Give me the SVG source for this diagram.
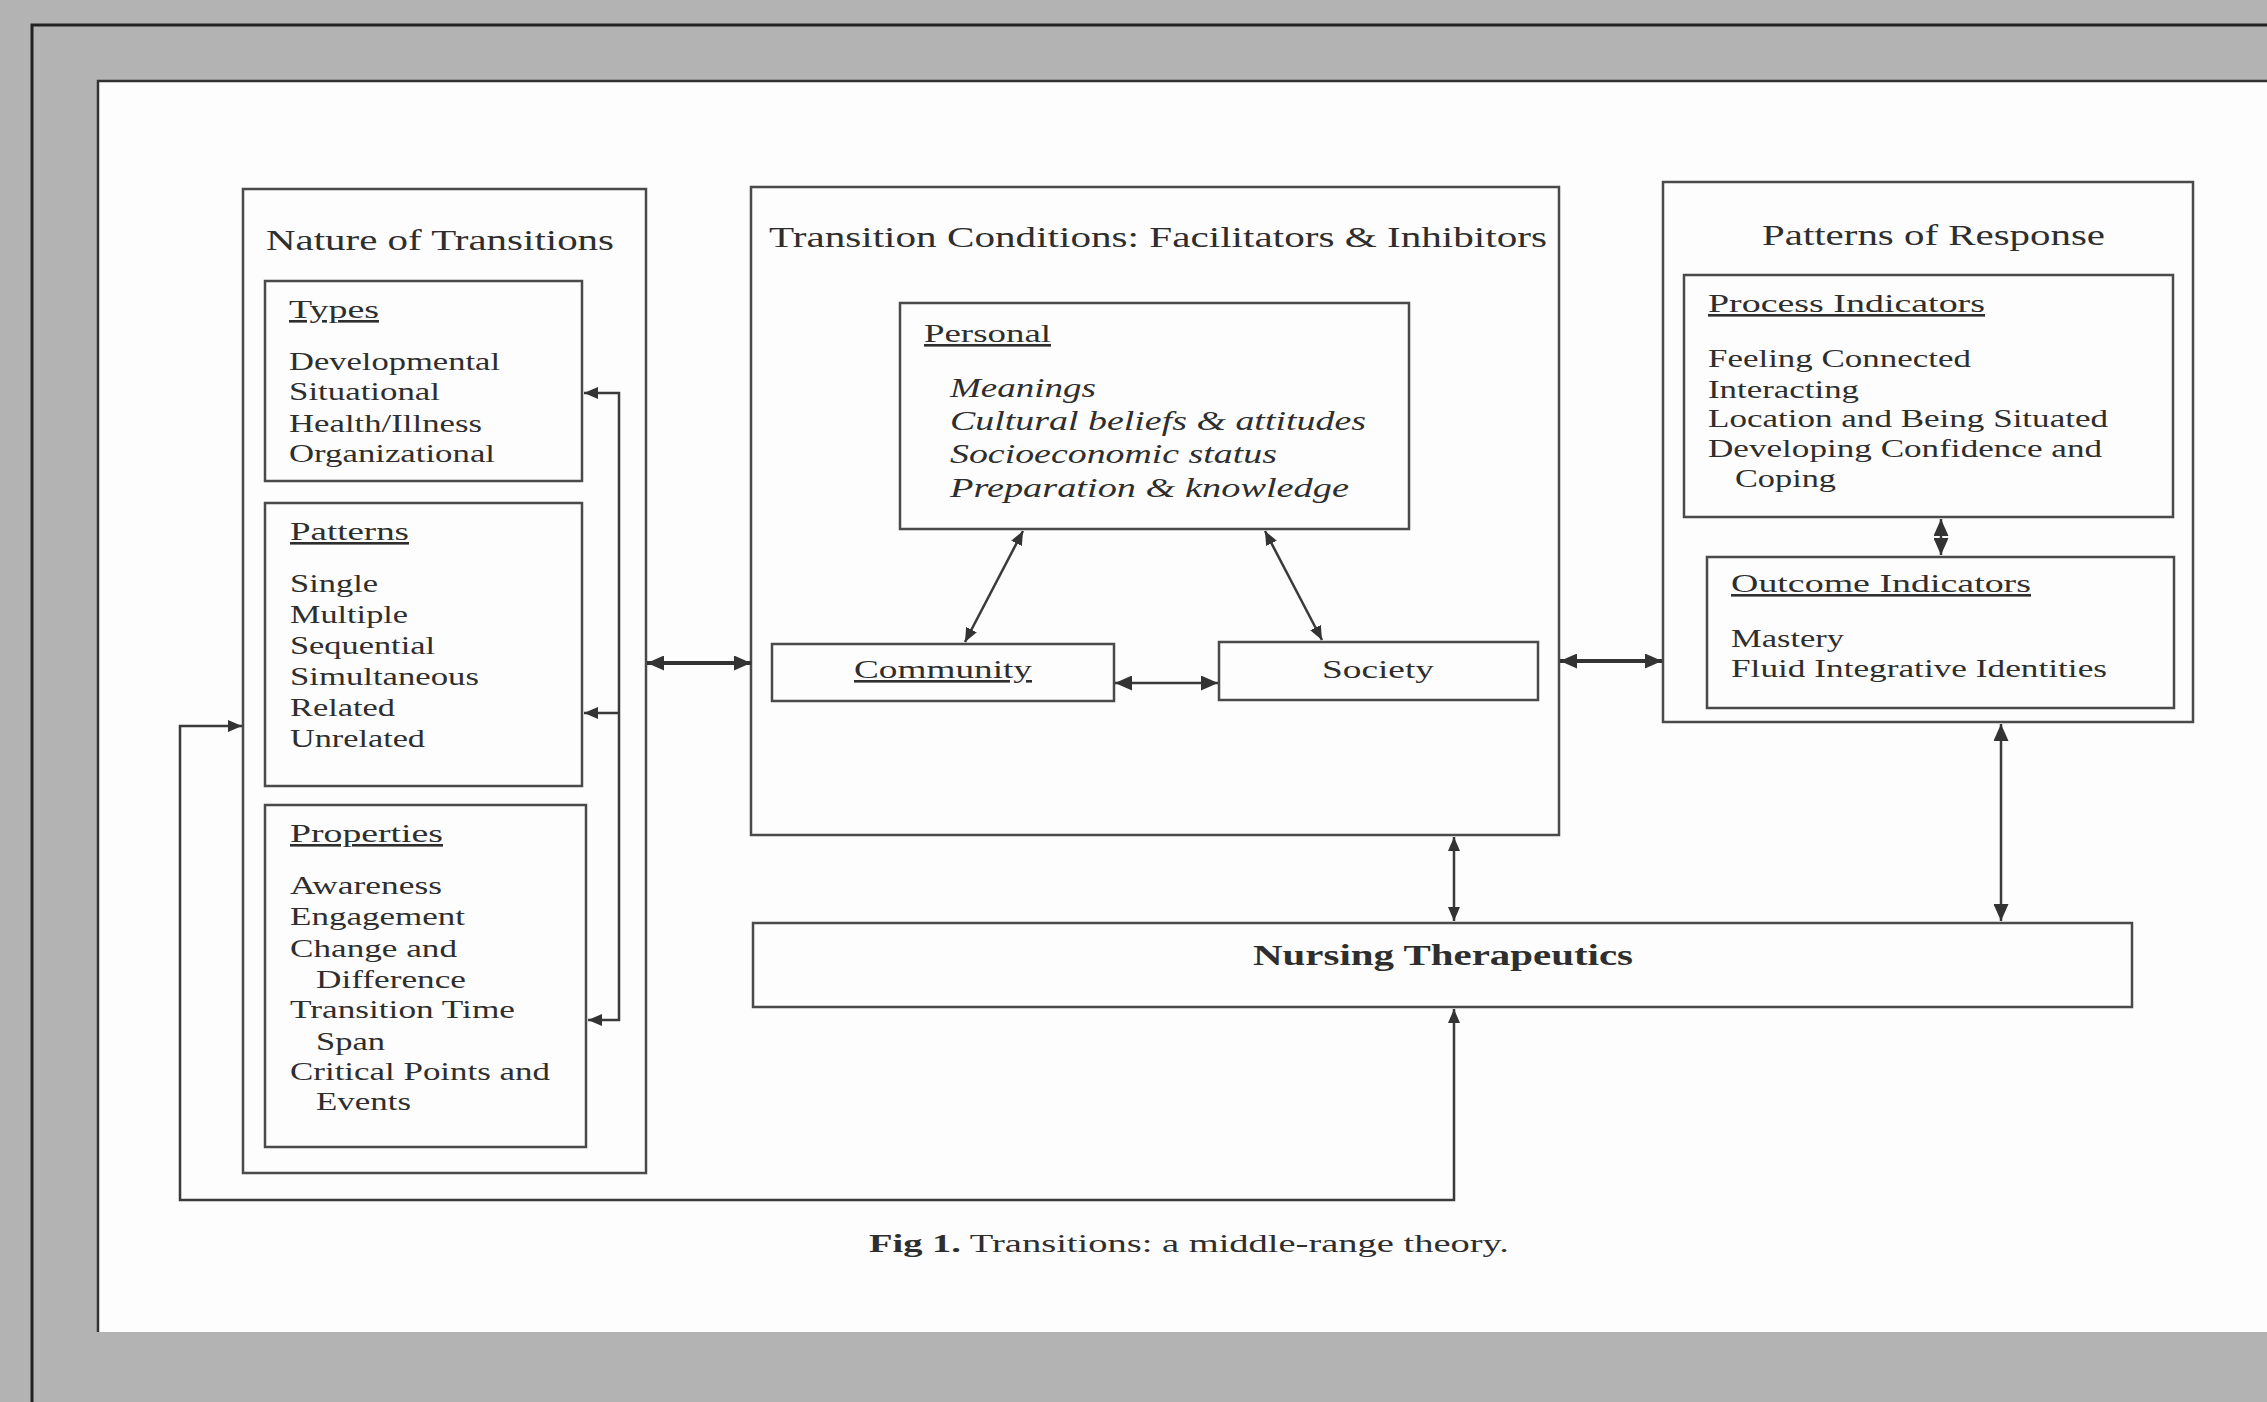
<svg xmlns="http://www.w3.org/2000/svg" width="2267" height="1402" viewBox="0 0 2267 1402">
<style>
.box{fill:none;stroke:#4a4a4a;stroke-width:2.5}
.ln{fill:none;stroke:#3a3a3a;stroke-width:2.5}
.lnb{fill:none;stroke:#333;stroke-width:4}
text{font-family:"Liberation Serif","Times New Roman",serif;fill:#2e2e2e}
.t{font-size:29px}
.i{font-size:26px}
.it{font-size:27px;font-style:italic}
.u{text-decoration:underline}
.b{font-weight:bold}
</style>
<defs>
<marker id="a" viewBox="0 0 14 12" refX="14" refY="6" markerWidth="14" markerHeight="12" markerUnits="userSpaceOnUse" orient="auto-start-reverse">
<path d="M0,0 L14,6 L0,12 z" fill="#333"/>
</marker>
<marker id="b" viewBox="0 0 17 15" refX="17" refY="7.5" markerWidth="17" markerHeight="15" markerUnits="userSpaceOnUse" orient="auto-start-reverse">
<path d="M0,0 L17,7.5 L0,15 z" fill="#333"/>
</marker>
</defs>
<rect x="0" y="0" width="2267" height="1402" fill="#b3b3b3"/>
<path d="M32,1402 V25 H2267" fill="none" stroke="#222" stroke-width="3"/>
<rect x="98" y="81" width="2169" height="1251" fill="#fdfdfd"/>
<path d="M98,1332 V81 H2267" fill="none" stroke="#333" stroke-width="2.5"/>

<g id="nature">
<rect class="box" x="243" y="189" width="403" height="984"/>
<text class="t" x="266" y="250" textLength="348" lengthAdjust="spacingAndGlyphs">Nature of Transitions</text>
</g>
<g id="types">
<rect class="box" x="265" y="281" width="317" height="200"/>
<text class="i u" x="289" y="318" textLength="90" lengthAdjust="spacingAndGlyphs">Types</text>
<text class="i" x="289" y="370" textLength="211" lengthAdjust="spacingAndGlyphs">Developmental</text>
<text class="i" x="289" y="400" textLength="151" lengthAdjust="spacingAndGlyphs">Situational</text>
<text class="i" x="289" y="432" textLength="193" lengthAdjust="spacingAndGlyphs">Health/Illness</text>
<text class="i" x="289" y="462" textLength="206" lengthAdjust="spacingAndGlyphs">Organizational</text>
</g>
<g id="patterns">
<rect class="box" x="265" y="503" width="317" height="283"/>
<text class="i u" x="290" y="540" textLength="119" lengthAdjust="spacingAndGlyphs">Patterns</text>
<text class="i" x="290" y="592" textLength="88" lengthAdjust="spacingAndGlyphs">Single</text>
<text class="i" x="290" y="623" textLength="118" lengthAdjust="spacingAndGlyphs">Multiple</text>
<text class="i" x="290" y="654" textLength="145" lengthAdjust="spacingAndGlyphs">Sequential</text>
<text class="i" x="290" y="685" textLength="189" lengthAdjust="spacingAndGlyphs">Simultaneous</text>
<text class="i" x="290" y="716" textLength="105" lengthAdjust="spacingAndGlyphs">Related</text>
<text class="i" x="290" y="747" textLength="135" lengthAdjust="spacingAndGlyphs">Unrelated</text>
</g>
<g id="properties">
<rect class="box" x="265" y="805" width="321" height="342"/>
<text class="i u" x="290" y="842" textLength="153" lengthAdjust="spacingAndGlyphs">Properties</text>
<text class="i" x="290" y="894" textLength="152" lengthAdjust="spacingAndGlyphs">Awareness</text>
<text class="i" x="290" y="925" textLength="175" lengthAdjust="spacingAndGlyphs">Engagement</text>
<text class="i" x="290" y="957" textLength="167" lengthAdjust="spacingAndGlyphs">Change and</text>
<text class="i" x="316" y="988" textLength="150" lengthAdjust="spacingAndGlyphs">Difference</text>
<text class="i" x="290" y="1018" textLength="225" lengthAdjust="spacingAndGlyphs">Transition Time</text>
<text class="i" x="316" y="1050" textLength="69" lengthAdjust="spacingAndGlyphs">Span</text>
<text class="i" x="290" y="1080" textLength="260" lengthAdjust="spacingAndGlyphs">Critical Points and</text>
<text class="i" x="316" y="1110" textLength="95" lengthAdjust="spacingAndGlyphs">Events</text>
</g>

<g id="conditions">
<rect class="box" x="751" y="187" width="808" height="648"/>
<text class="t" x="769" y="247" textLength="778" lengthAdjust="spacingAndGlyphs">Transition Conditions: Facilitators &amp; Inhibitors</text>
</g>
<g id="personal">
<rect class="box" x="900" y="303" width="509" height="226"/>
<text class="i u" x="924" y="342" textLength="127" lengthAdjust="spacingAndGlyphs">Personal</text>
<text class="it" x="950" y="397" textLength="146" lengthAdjust="spacingAndGlyphs">Meanings</text>
<text class="it" x="950" y="430" textLength="416" lengthAdjust="spacingAndGlyphs">Cultural beliefs &amp; attitudes</text>
<text class="it" x="950" y="463" textLength="327" lengthAdjust="spacingAndGlyphs">Socioeconomic status</text>
<text class="it" x="950" y="497" textLength="399" lengthAdjust="spacingAndGlyphs">Preparation &amp; knowledge</text>
</g>
<g id="community">
<rect class="box" x="772" y="644" width="342" height="57"/>
<text class="i u" x="854" y="678" textLength="178" lengthAdjust="spacingAndGlyphs">Community</text>
</g>
<g id="society">
<rect class="box" x="1219" y="642" width="319" height="58"/>
<text class="i" x="1322" y="678" textLength="112" lengthAdjust="spacingAndGlyphs">Society</text>
</g>

<g id="response">
<rect class="box" x="1663" y="182" width="530" height="540"/>
<text class="t" x="1762" y="245" textLength="343" lengthAdjust="spacingAndGlyphs">Patterns of Response</text>
</g>
<g id="process">
<rect class="box" x="1684" y="275" width="489" height="242"/>
<text class="i u" x="1708" y="312" textLength="277" lengthAdjust="spacingAndGlyphs">Process Indicators</text>
<text class="i" x="1708" y="367" textLength="263" lengthAdjust="spacingAndGlyphs">Feeling Connected</text>
<text class="i" x="1708" y="398" textLength="151" lengthAdjust="spacingAndGlyphs">Interacting</text>
<text class="i" x="1708" y="427" textLength="400" lengthAdjust="spacingAndGlyphs">Location and Being Situated</text>
<text class="i" x="1708" y="457" textLength="394" lengthAdjust="spacingAndGlyphs">Developing Confidence and</text>
<text class="i" x="1735" y="487" textLength="101" lengthAdjust="spacingAndGlyphs">Coping</text>
</g>
<g id="outcome">
<rect class="box" x="1707" y="557" width="467" height="151"/>
<text class="i u" x="1731" y="592" textLength="300" lengthAdjust="spacingAndGlyphs">Outcome Indicators</text>
<text class="i" x="1731" y="647" textLength="113" lengthAdjust="spacingAndGlyphs">Mastery</text>
<text class="i" x="1731" y="677" textLength="376" lengthAdjust="spacingAndGlyphs">Fluid Integrative Identities</text>
</g>

<g id="nursing">
<rect class="box" x="753" y="923" width="1379" height="84"/>
<text class="t b" x="1253" y="965" textLength="380" lengthAdjust="spacingAndGlyphs">Nursing Therapeutics</text>
</g>

<g id="connectors">
<path class="ln" d="M584,393 H619 V1020 H588" marker-start="url(#a)" marker-end="url(#a)"/>
<path class="ln" d="M619,713 H584" marker-end="url(#a)"/>
<path class="lnb" d="M647,663 H751" marker-start="url(#b)" marker-end="url(#b)"/>
<path class="lnb" d="M1560,661 H1662" marker-start="url(#b)" marker-end="url(#b)"/>
<path class="ln" d="M1115,683 H1218" marker-start="url(#b)" marker-end="url(#b)"/>
<path class="ln" d="M1023,531 L965,642" marker-start="url(#a)" marker-end="url(#a)"/>
<path class="ln" d="M1265,531 L1322,640" marker-start="url(#a)" marker-end="url(#a)"/>
<path class="ln" d="M1941,519 V555" marker-start="url(#b)" marker-end="url(#b)"/>
<path class="ln" d="M1454,837 V921" marker-start="url(#a)" marker-end="url(#a)"/>
<path class="ln" d="M2001,724 V921" marker-start="url(#b)" marker-end="url(#b)"/>
<path class="ln" d="M242,726 H180 V1200 H1454 V1009" marker-start="url(#a)" marker-end="url(#a)"/>
</g>

<text x="869" y="1252" font-size="25" textLength="640" lengthAdjust="spacingAndGlyphs"><tspan font-weight="bold">Fig 1.</tspan> Transitions: a middle-range theory.</text>
</svg>
